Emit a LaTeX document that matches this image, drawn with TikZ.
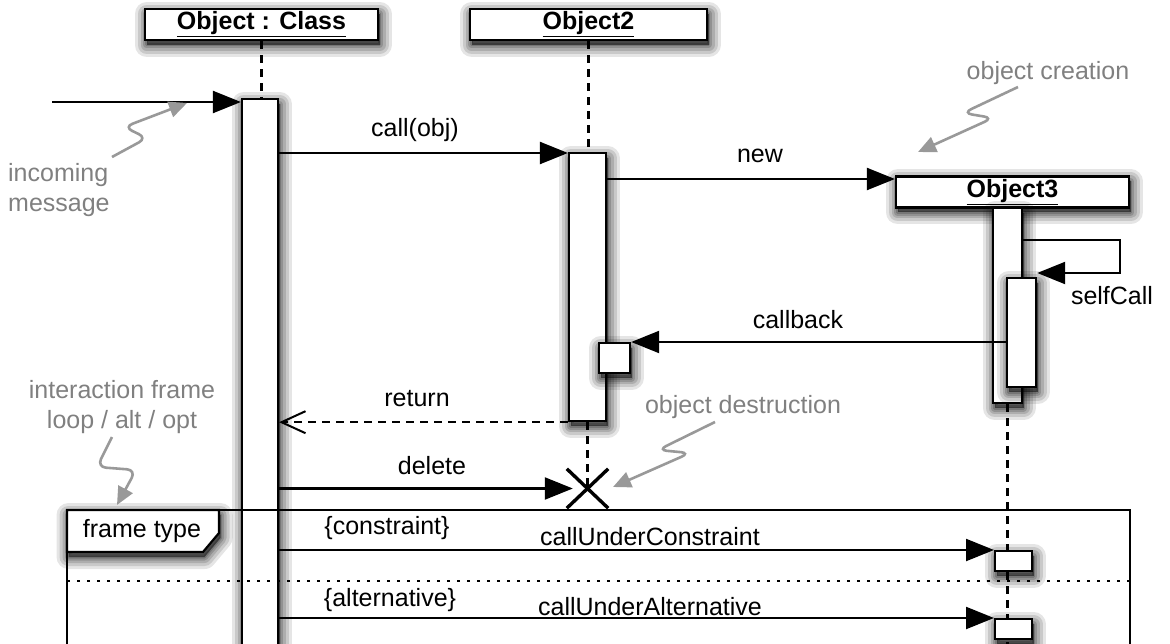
\documentclass[tikz,border=0pt]{standalone}
\usepackage{fontspec}
\setmainfont{Liberation Sans}
\usetikzlibrary{arrows.meta,backgrounds}
\definecolor{annot}{gray}{0.5}
\definecolor{squig}{gray}{0.6}
\begin{document}
\begin{tikzpicture}[x=1pt,y=-1pt,
  lw/.style={line width=2.2pt},
  lbl/.style={font=\fontsize{25}{30}\selectfont, inner sep=0pt},
  note/.style={lbl, text=annot},
  shd/.style={
    preaction={fill=black, fill opacity=0.5, transform canvas={xshift=1.5pt,yshift=-5pt}},
    preaction={draw=black, draw opacity=0.10, line width=24pt, line join=round, transform canvas={xshift=1.5pt,yshift=-5pt}},
    preaction={draw=black, draw opacity=0.12, line width=18pt, line join=round, transform canvas={xshift=1.5pt,yshift=-5pt}},
    preaction={draw=black, draw opacity=0.14, line width=12pt, line join=round, transform canvas={xshift=1.5pt,yshift=-5pt}},
    preaction={draw=black, draw opacity=0.16, line width=7pt, line join=round, transform canvas={xshift=1.5pt,yshift=-5pt}},
    preaction={draw=black, draw opacity=0.18, line width=3pt, line join=round, transform canvas={xshift=1.5pt,yshift=-5pt}}},
  objbox/.style={draw, lw, fill=white, shd, font=\fontsize{25}{30}\selectfont\bfseries, inner sep=0pt, minimum height=31pt},
  actbox/.style={draw, lw, fill=white, shd, inner sep=0pt},
  life/.style={lw, dash pattern=on 8pt off 6pt},
  msg/.style={lw, -{Triangle[length=28pt,width=22pt,fill=black]}},
  reply/.style={lw, dash pattern=on 8pt off 6pt, -{Straight Barb[length=24pt,width=22pt,line width=2pt]}},
  squiggle/.style={draw=squig, line width=2.6pt, rounded corners=9pt, -{Triangle[length=18pt,width=16pt,fill=squig]}},
]
\useasboundingbox (0,0) rectangle (1170,644);
\clip (0,0) rectangle (1170,644);

% objects
\node[objbox, minimum width=233pt] (o1) at (261.5,24.5) {\underline{Object : Class}};
\node[objbox, minimum width=237pt] (o2) at (588.5,24.5) {\underline{Object2}};

% activation of Object : Class
\node[actbox, minimum width=36pt, minimum height=570pt, anchor=north] (a1) at (260,98) {};

% interaction frame
\coordinate (fNW) at (67,510);
\coordinate (fNE) at (1130,510);
\draw[lw] (67,660) -- (fNW) -- (fNE) -- (1130,660);
\draw[lw, dash pattern=on 3pt off 7pt] (67,581) -- (1130,581);
\draw[lw, fill=white, shd] (fNW) -- (219,510) -- (219,533) -- (203,552) -- (67,552) -- cycle;
\node[lbl] (ftype) at (142,531) {frame type};

% Object2 activations
\node[actbox, minimum width=37pt, minimum height=268pt, anchor=north] (a2) at (587.5,152) {};
\node[actbox, minimum width=31pt, minimum height=30pt, anchor=north west] (a2b) at (598,342) {};

% Object3
\node[objbox, minimum width=233pt] (o3) at (1012.5,192) {\underline{Object3}};
\node[actbox, minimum width=29pt, minimum height=195pt, anchor=north] (a3) at (1007.5,207) {};
\node[actbox, minimum width=29pt, minimum height=109pt, anchor=north west] (a3b) at (1006,277) {};
\node[actbox, minimum width=37pt, minimum height=20pt, anchor=north west] (c1) at (994,550) {};
\node[actbox, minimum width=37pt, minimum height=20pt, anchor=north west] (c2) at (994,618) {};

% destruction
\node[minimum width=41pt, minimum height=39pt, inner sep=0pt] (X) at (587.5,488.5) {};
\draw[line width=3.4pt] (X.north west) -- (X.south east) (X.south west) -- (X.north east);

% lifelines
\begin{scope}[on background layer]
\draw[life] (o1.south) -- (o1.south |- a1.north);
\draw[life] (o2.south) -- (o2.south |- a2.north);
\draw[life] (a2.south) -- (X.center);
\draw[life] (a3.south) -- ++(0,260);
\end{scope}

% messages
\coordinate (inc) at (52,102);
\draw[msg] (inc) -- (inc -| a1.west);
\draw[msg] (a1.east |- {(0,153)}) -- (a2.west |- {(0,153)});
\node[lbl] (lcall) at (415,130) {call(obj)};
\draw[msg] (a2.east |- {(0,179)}) -- (o3.west |- {(0,179)});
\node[lbl] (lnew) at (760,156) {new};
\draw[msg] (a3.east |- {(0,240)}) -- (1120,240) -- (1120,273) -- (a3b.east |- {(0,273)});
\node[lbl] (lself) at (1112,296) {selfCall};
\draw[msg] (a3b.west |- a2b.north) -- (a2b.north east);
\node[lbl] (lcb) at (798,320) {callback};
\draw[reply] (a2.south west) -- (a1.east |- a2.south);
\node[lbl] (lret) at (417,399) {return};
\draw[msg, shorten >=-6pt] (a1.east |- X) -- (X.west);
\node[lbl] (ldel) at (432,466) {delete};
\draw[msg] (a1.east |- c1.north) -- (c1.north west);
\node[lbl] (lcons) at (387,528) {\{constraint\}};
\node[lbl] (lcuc) at (650,537) {callUnderConstraint};
\draw[msg] (a1.east |- c2.north) -- (c2.north west);
\node[lbl] (lalt) at (390,600) {\{alternative\}};
\node[lbl] (lcua) at (650,607) {callUnderAlternative};

% annotations
\node[note, align=left, anchor=west] (nin) at (8,190) {incoming\\message};
\coordinate (sq1) at (112,157);
\coordinate (tq1) at (187,103);
\draw[squiggle] (sq1) -- (147,138) -- (124,127) -- (tq1);

\node[note] (ncr) at (1048,73) {object creation};
\coordinate (sq2) at (1018,87);
\coordinate (tq2) at (918,152);
\draw[squiggle] (sq2) -- (963,113) -- (993,118) -- (tq2);

\node[note] (nde) at (743,407) {object destruction};
\coordinate (sq3) at (715,422);
\coordinate (tq3) at (613,487);
\draw[squiggle] (sq3) -- (658,450) -- (690,453) -- (tq3);

\node[note, align=center] (nfr) at (122,407) {interaction frame\\loop / alt / opt};
\coordinate (sq4) at (112,437);
\coordinate (tq4) at (117,505);
\draw[squiggle] (sq4) -- (97,467) -- (136,470) -- (tq4);
\end{tikzpicture}
\end{document}
